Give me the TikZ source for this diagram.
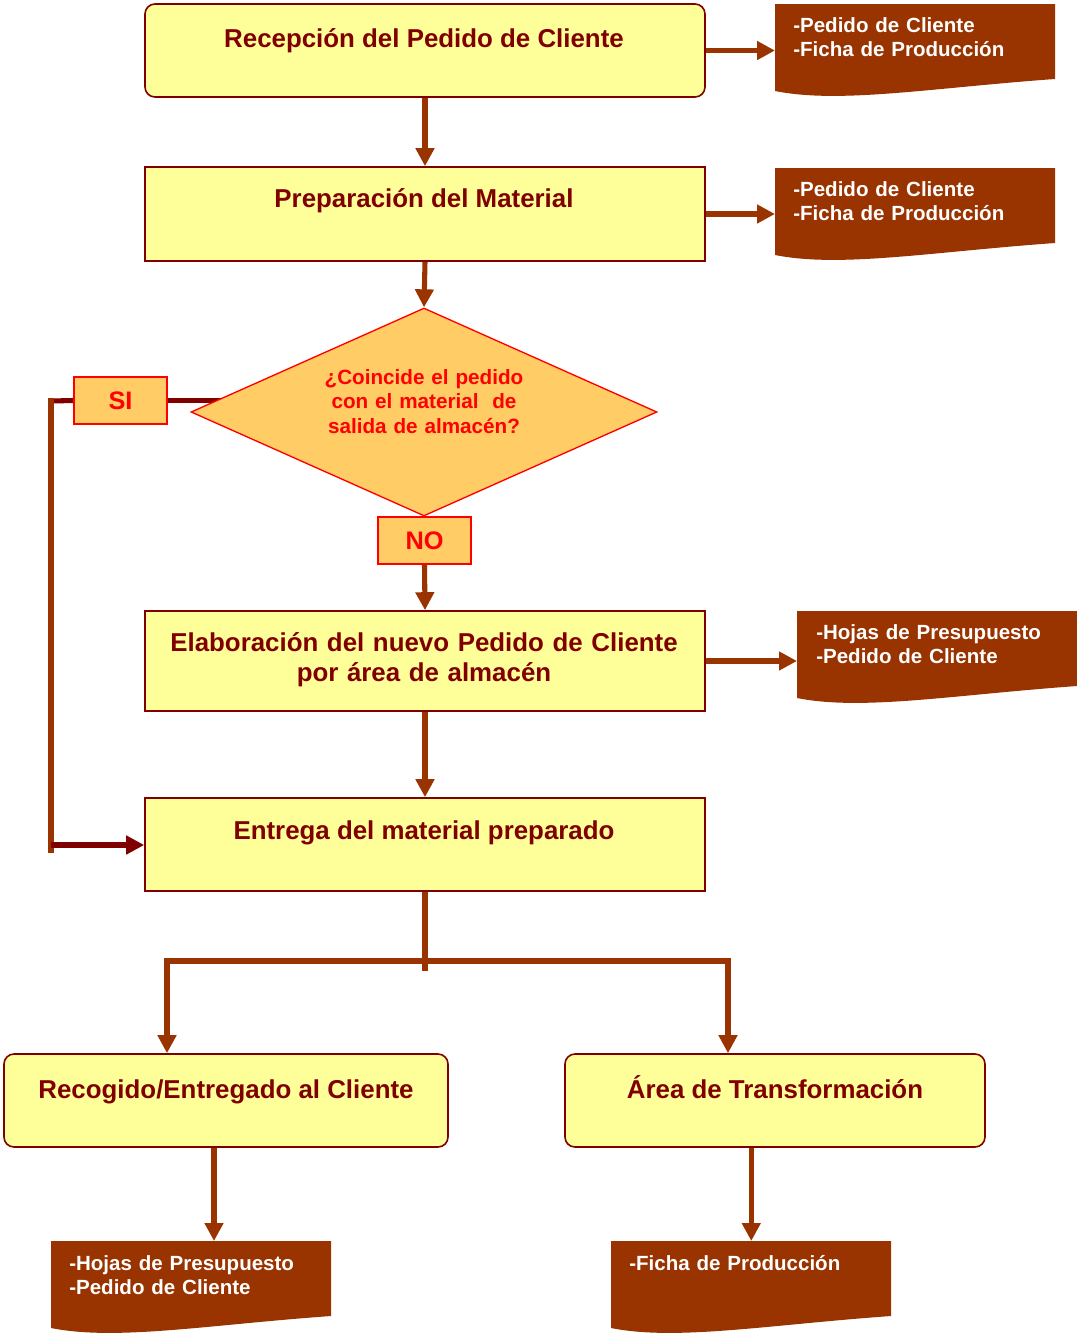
\documentclass[tikz,border=0pt]{standalone}
\usepackage{fontspec}
\setmainfont{Liberation Sans}
\usetikzlibrary{shapes.geometric,arrows.meta,calc,backgrounds}

\definecolor{boxfill}{HTML}{FFFF99}
\definecolor{boxline}{HTML}{800000}
\definecolor{titlecol}{HTML}{800000}
\definecolor{flowbrown}{HTML}{993300}
\definecolor{decfill}{HTML}{FFCC66}
\definecolor{decred}{HTML}{FF0000}
\definecolor{docfill}{HTML}{993300}

% document symbol: flat top, wavy bottom edge; #1 name, #2/#3 top-left corner
\newcommand\docpage[3]{%
  \fill[docfill] (#2,#3) -- (#2+280,#3) -- (#2+280,#3+75)
    .. controls (#2+155,#3+84) and (#2+65,#3+100) .. (#2,#3+87) -- cycle;
  \node[inner sep=0, minimum width=210pt, minimum height=56.25pt,
        anchor=north west] (#1) at (#2,#3) {};%
}

\begin{document}
\begin{tikzpicture}[x=0.75pt, y=-0.75pt,
  stepbox/.style={draw=boxline, fill=boxfill, line width=1.2pt, inner sep=0},
  roundbox/.style={stepbox, rounded corners=7.5pt},
  title/.style={font=\bfseries\fontsize{19.4}{22.5}\selectfont, text=titlecol,
                inner sep=0, align=center},
  doctext/.style={font=\bfseries\fontsize{15.4}{18.5}\selectfont, text=white,
                  inner sep=0, align=left, text width=200pt, anchor=base west},
  tag/.style={draw=decred, fill=decfill, line width=1pt, text=decred,
              font=\bfseries\fontsize{19}{22}\selectfont,
              minimum width=69.75pt, minimum height=35.25pt, inner sep=0},
  flowarrow/.style={draw=flowbrown, line width=3.8pt,
                    -{Triangle[length=13.5pt,width=13.5pt]}},
  flowline/.style={draw=flowbrown, line width=3.8pt, line cap=rect},
  darkline/.style={draw=boxline, line width=3.8pt},
  darkarrow/.style={draw=boxline, line width=3.8pt,
                    -{Triangle[length=13.5pt,width=13.5pt]}},
]
\useasboundingbox (0,0) rectangle (1077,1335);

% process boxes
\node[roundbox, minimum width=420pt, minimum height=69.75pt] (recep) at (425,50.5) {};
\node[stepbox,  minimum width=420pt, minimum height=70.5pt]  (prep)  at (425,214) {};
\node[diamond, draw=decred, fill=decfill, line width=1pt, shape aspect=2.24,
      minimum width=349.5pt, minimum height=156pt, inner sep=0] (dia) at (424,412) {};
\node[tag] (si) at (120.5,400.5) {SI};
\node[tag] (no) at (424.5,540.5) {NO};
\node[stepbox,  minimum width=420pt, minimum height=75pt]    (elab)  at (425,661) {};
\node[stepbox,  minimum width=420pt, minimum height=69.75pt] (entrega) at (425,844.5) {};
\node[roundbox, minimum width=333pt, minimum height=69.75pt] (recog) at (226,1100.5) {};
\node[roundbox, minimum width=315pt, minimum height=69.75pt] (area)  at (775,1100.5) {};

% titles
\node[title, anchor=base] (t1) at (424,47) {Recepción del Pedido de Cliente};
\node[title, anchor=base] (t2) at (424,207) {Preparación del Material};
\node[title, anchor=base, text width=420pt] (t3) at (424,651)
  {Elaboración del nuevo Pedido de Cliente\\por área de almacén};
\node[title, anchor=base] (t4) at (424,839) {Entrega del material preparado};
\node[title, anchor=base] (t5) at (226,1098) {Recogido/Entregado al Cliente};
\node[title, anchor=base] (t6) at (775,1098) {Área de Transformación};
\node[font=\bfseries\fontsize{15.5}{18.4}\selectfont, text=decred, inner sep=0,
      align=center, text width=220pt, anchor=base] (qt) at (424,384)
  {¿Coincide el pedido\\con el material~ de\\salida de almacén?};

% documents
\docpage{d1}{775}{4}
\docpage{d2}{775}{168}
\docpage{d3}{797}{611}
\docpage{d4}{51}{1241}
\docpage{d5}{611}{1241}
\node[doctext] (d1t) at (793,32)  {-Pedido de Cliente\\-Ficha de Producción};
\node[doctext] (d2t) at (793,196) {-Pedido de Cliente\\-Ficha de Producción};
\node[doctext] (d3t) at (816,639) {-Hojas de Presupuesto\\-Pedido de Cliente};
\node[doctext] (d4t) at (69,1270) {-Hojas de Presupuesto\\-Pedido de Cliente};
\node[doctext] (d5t) at (629,1270) {-Ficha de Producción};

% junction points
\coordinate (sicorner) at (51,401);
\coordinate (entcorner) at (51,845);
\coordinate (forkL) at (167,961);
\coordinate (forkR) at (728,961);
\coordinate (d4tip) at (214,1241);

\begin{scope}[on background layer]
  % main flow
  \draw[flowarrow] (recep.south) -- (prep.north);
  \draw[flowarrow] (prep.south) -- (dia.north);
  \draw[flowarrow] (no.south) -- (elab.north);
  \draw[flowarrow] (elab.south) -- (entrega.north);
  % outputs to documents
  \draw[flowarrow] (recep.east) -- (recep.east -| d1.west);
  \draw[flowarrow] (prep.east) -- (prep.east -| d2.west);
  \draw[flowarrow] (elab.east) -- (elab.east -| d3.west);
  % SI branch (runs under the decision, which hides its end)
  \draw[darkline] (si.east) -- (si.east -| dia.center);
  \draw[darkline] (si.west) -- (sicorner);
  \draw[flowline] (sicorner) -- ($(entcorner)+(0,5)$);
  \draw[darkarrow] (entcorner) -- (entcorner -| entrega.west);
  % split after delivery
  \draw[flowline] (entrega.south) -- ($(entrega.south |- forkL)+(0,7)$);
  \draw[flowline] (forkL) -- (forkR);
  \draw[flowarrow] (forkL) -- (forkL |- recog.north);
  \draw[flowarrow] (forkR) -- (forkR |- area.north);
  \draw[flowarrow] (recog.south -| d4tip) -- (d4tip);
  \draw[flowarrow] (area.south -| d5.north) -- (d5.north);
\end{scope}
\end{tikzpicture}
\end{document}
